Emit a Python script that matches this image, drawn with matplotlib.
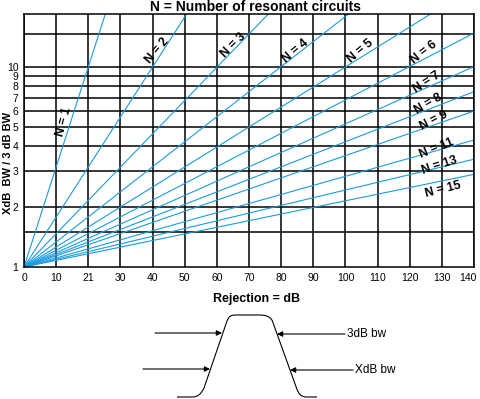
import matplotlib
matplotlib.use("Agg")
import matplotlib.pyplot as plt
from matplotlib.path import Path
from matplotlib.patches import PathPatch
from matplotlib.ticker import NullLocator
from matplotlib.transforms import ScaledTranslation

plt.rcParams["font.family"] = ["Liberation Sans", "DejaVu Sans"]

# number of resonant circuits, one line each
n_values = [1, 2, 3, 4, 5, 6, 7, 8, 9, 11, 13, 15]
# where each line leaves the grid (top edge or right edge)
end_db = [25.3, 50.6, 76.0, 101.0, 126.5, 140, 140, 140, 140, 140, 140, 140]
end_ratio = [18.3, 18.3, 18.3, 18.3, 18.3, 14.7, 10.0, 7.5, 6.0, 4.3, 3.45, 2.9]

# label placement along the lines: (dB, ratio, angle)
label_db = [12.3, 41.6, 65.0, 84.6, 104.8, 124.4, 125.2, 125.8, 127.6, 128.2, 129.2, 130.5]
label_ratio = [5.3, 12.0, 12.8, 12.0, 12.0, 11.8, 8.3, 6.5, 5.35, 3.9, 3.2, 2.42]
label_angle = [75, 50, 45, 40, 40, 38, 33, 30, 27, 22, 18, 14]

x_ticks = [0, 10, 20, 30, 40, 50, 60, 70, 80, 90, 100, 110, 120, 130, 140]
x_tick_labels = ["0", "10", "21", "30", "40", "50", "60", "70", "80", "90",
                 "100", "110", "120", "130", "140"]
y_ticks = [1, 2, 3, 4, 5, 6, 7, 8, 9, 10]
y_grid = [1.5, 2, 3, 4, 5, 6, 7, 8, 9, 10, 14.6]

line_color = "#1a9be0"

fig = plt.figure(figsize=(4.8, 3.99), dpi=100)
ax = fig.add_axes([24 / 480, 1 - 267 / 399, 450 / 480, 253 / 399])
ax.set_yscale("log")
ax.set_xlim(0, 140)
ax.set_ylim(1, 18.3)

# grid
for xv in x_ticks:
    ax.axvline(xv, color="black", lw=1.1, zorder=1)
for yv in y_grid:
    ax.axhline(yv, color="black", lw=1.1, zorder=1)
for sp in ax.spines.values():
    sp.set_linewidth(1.1)

ax.set_xticks(x_ticks)
ax.set_xticklabels(x_tick_labels, fontsize=7.5)
ax.set_yticks(y_ticks)
ax.set_yticklabels([str(v) for v in y_ticks], fontsize=7.5)
ax.yaxis.set_minor_locator(NullLocator())
ax.tick_params(length=0, pad=4)
# keep the last x label inside the picture
last = ax.get_xticklabels()[-1]
last.set_transform(last.get_transform() + ScaledTranslation(-6 / 100, 0, fig.dpi_scale_trans))

# the N lines, all starting at (0, 1)
for xe, ye in zip(end_db, end_ratio):
    ax.plot([0, xe], [1, ye], color=line_color, lw=0.8, zorder=2)

for n, lx, ly, ang in zip(n_values, label_db, label_ratio, label_angle):
    ax.text(lx, ly, f"N = {n}", rotation=ang, rotation_mode="anchor",
            ha="center", va="center", fontsize=8.8, fontweight="bold", zorder=3)

fig.text(255 / 480, 1 - 7 / 399, "N = Number of resonant circuits",
         ha="center", va="center", fontsize=10, fontweight="bold")
fig.text(8 / 480, 1 - 163 / 399, "XdB  BW / 3 dB BW", rotation=90,
         ha="center", va="center", fontsize=8, fontweight="bold")

# filter shape sketch underneath
ax2 = fig.add_axes([0, 0, 1, 120 / 399])
ax2.set_xlim(0, 480)
ax2.set_ylim(399, 279)
ax2.axis("off")

verts = [(177, 397), (192, 397),
         (198, 397), (201, 394), (204, 388),
         (227, 321),
         (229, 316), (231, 315), (236, 315),
         (259, 315),
         (265, 315), (270, 316), (272.4, 321),
         (296.5, 388),
         (298.5, 394), (301, 397), (307, 397),
         (317, 397)]
codes = [Path.MOVETO, Path.LINETO,
         Path.CURVE4, Path.CURVE4, Path.CURVE4,
         Path.LINETO,
         Path.CURVE4, Path.CURVE4, Path.CURVE4,
         Path.LINETO,
         Path.CURVE4, Path.CURVE4, Path.CURVE4,
         Path.LINETO,
         Path.CURVE4, Path.CURVE4, Path.CURVE4,
         Path.LINETO]
ax2.add_patch(PathPatch(Path(verts, codes), fill=False, lw=0.8, color="black"))

ax2.text(257, 299, "Rejection = dB", ha="center", va="center",
         fontsize=9, fontweight="bold")

arrow = dict(arrowstyle="-|>", lw=0.8, color="black", mutation_scale=8,
             shrinkA=0, shrinkB=0)
ax2.annotate("", xy=(222, 333), xytext=(155, 333), arrowprops=arrow)
ax2.annotate("", xy=(210, 369), xytext=(143, 369), arrowprops=arrow)
ax2.annotate("", xy=(277, 334), xytext=(345, 334), arrowprops=arrow)
ax2.annotate("", xy=(290, 370), xytext=(353, 370), arrowprops=arrow)
ax2.text(347, 334, "3dB bw", ha="left", va="center", fontsize=8.5)
ax2.text(355, 370, "XdB bw", ha="left", va="center", fontsize=8.5)

fig.savefig("out.png", dpi=100)
